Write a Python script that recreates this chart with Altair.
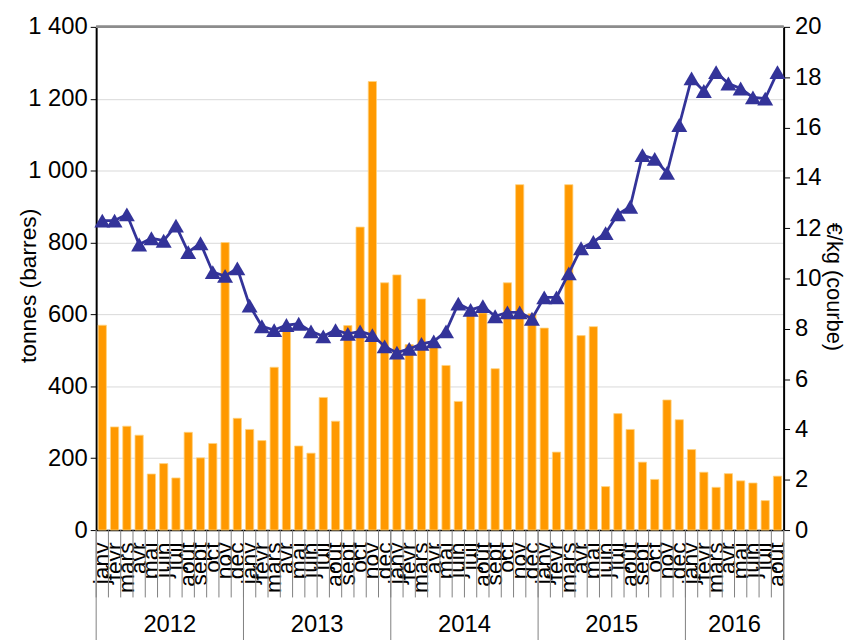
import altair as alt
import pandas as pd

months = ["janv", "févr", "mars", "avr", "mai", "juin", "juil", "août", "sept", "oct", "nov", "déc"]
years = ["2012", "2013", "2014", "2015", "2016"]

tonnes_2012 = [570, 287, 289, 264, 156, 185, 145, 272, 201, 241, 800, 311]
tonnes_2013 = [280, 249, 453, 553, 234, 214, 369, 303, 569, 843, 1248, 688]
tonnes_2014 = [710, 516, 643, 516, 458, 358, 600, 604, 449, 688, 961, 602]
tonnes_2015 = [562, 217, 961, 541, 566, 121, 324, 280, 189, 141, 362, 307]
tonnes_2016 = [224, 161, 119, 157, 137, 131, 82, 150]

price_2012 = [12.3, 12.3, 12.55, 11.35, 11.6, 11.5, 12.1, 11.05, 11.4, 10.25, 10.1, 10.4]
price_2013 = [8.92, 8.1, 7.95, 8.15, 8.2, 7.9, 7.7, 7.95, 7.8, 7.9, 7.75, 7.3]
price_2014 = [7.05, 7.2, 7.4, 7.5, 7.9, 9.0, 8.75, 8.9, 8.5, 8.65, 8.65, 8.4]
price_2015 = [9.25, 9.25, 10.2, 11.2, 11.45, 11.8, 12.55, 12.85, 14.9, 14.75, 14.2, 16.1]
price_2016 = [17.95, 17.45, 18.2, 17.75, 17.55, 17.2, 17.15, 18.2]

tonnes = tonnes_2012 + tonnes_2013 + tonnes_2014 + tonnes_2015 + tonnes_2016
prices = price_2012 + price_2013 + price_2014 + price_2015 + price_2016
n = len(tonnes)

df = pd.DataFrame({
    "i": list(range(n)),
    "mois": [months[k % 12] for k in range(n)],
    "tonnes": tonnes,
    "prix": prices,
})

year_df = pd.DataFrame({"annee": years, "i": [6, 18, 30, 42, 52]})
month_bounds = pd.DataFrame({"i": list(range(n))})
year_bounds = pd.DataFrame({"i": [0, 12, 24, 36, 48]})

W, H = 694, 508
half = W / n / 2
FONT = "Liberation Sans"

label_expr = "[" + ",".join("'" + m + "'" for m in months) + "][datum.value % 12]"

xscale = alt.Scale(paddingInner=0.33, paddingOuter=0.165)
xaxis = alt.Axis(labelExpr=label_expr, labelAngle=-90, labelAlign="right",
                 labelBaseline="middle", labelFontSize=23, labelColor="black",
                 labelOverlap=False, labelBound=False, labelPadding=12,
                 ticks=False, domainColor="black", domainWidth=1.5, grid=False, title=None)
X = alt.X("i:O", scale=xscale, axis=xaxis, title=None)
Xc = alt.X("i:O", scale=xscale, axis=xaxis, title=None, bandPosition=0.5)

yleft_axis = alt.Axis(values=list(range(0, 1401, 200)),
                      labelExpr="replace(format(datum.value, ','), ',', ' ')",
                      labelFontSize=24, labelColor="black", labelPadding=3,
                      tickSize=6, tickColor="black", domainColor="black", domainWidth=2,
                      grid=True, gridColor="#D9D9D9", gridWidth=1,
                      title="tonnes (barres)", titleFontSize=23, titleFontWeight="normal",
                      titleColor="black", titleX=-56, titleY=261, titleAngle=-90,
                      titleAlign="center", titleBaseline="bottom")
yright_axis = alt.Axis(orient="right", values=list(range(0, 21, 2)),
                       labelFontSize=24, labelColor="black", labelPadding=5,
                       tickSize=6, tickColor="black", domainColor="black", domainWidth=2,
                       grid=False, title="€/kg (courbe)", titleFontSize=22,
                       titleFontWeight="normal", titleColor="black", titleAngle=90,
                       titleX=38, titleY=262, titleAlign="center", titleBaseline="bottom")
YR = alt.Y("prix:Q", scale=alt.Scale(domain=[0, 20], nice=False), axis=yright_axis)

bars = alt.Chart(df).mark_bar(color="#FF9900", stroke="#FFD27F", strokeWidth=0.8).encode(
    x=X,
    y=alt.Y("tonnes:Q", scale=alt.Scale(domain=[0, 1400], nice=False), axis=yleft_axis),
)

month_rules = alt.Chart(month_bounds).mark_rule(color="#7F7F7F", strokeWidth=1, xOffset=-half).encode(
    x=Xc, y=alt.value(H), y2=alt.value(H + 68),
)

year_rules = alt.Chart(year_bounds).mark_rule(color="#7F7F7F", strokeWidth=1, xOffset=-half).encode(
    x=Xc, y=alt.value(H), y2=alt.value(H + 130),
)

right_rule = alt.Chart(year_bounds).mark_rule(color="#7F7F7F", strokeWidth=1).encode(
    x=alt.value(W), y=alt.value(H), y2=alt.value(H + 130),
)

top_rule = alt.Chart(year_bounds).mark_rule(color="#8C8C8C", strokeWidth=2).encode(
    x=alt.value(0), x2=alt.value(W), y=alt.value(0),
)

year_text = alt.Chart(year_df).mark_text(fontSize=24, color="black", align="center",
                                         baseline="middle", xOffset=-half).encode(
    x=Xc, y=alt.value(604), text="annee:N",
)

line = alt.Chart(df).mark_line(color="#333399", strokeWidth=2.8).encode(x=X, y=YR)
points = alt.Chart(df).mark_point(shape="triangle-up", filled=True, color="#333399",
                                  size=260, opacity=1).encode(x=X, y=YR)

left_layer = alt.layer(bars, month_rules, year_rules, right_rule, year_text, top_rule)
right_layer = alt.layer(line, points)

chart = alt.layer(left_layer, right_layer).resolve_scale(y="independent").properties(
    width=W, height=H,
    autosize=alt.AutoSizeParams(type="none"),
    padding={"left": 89, "top": 16, "right": 66, "bottom": 116},
).configure(font=FONT).configure_view(stroke=None)

chart.save("out.html", embed_options={"renderer": "svg", "actions": False})
